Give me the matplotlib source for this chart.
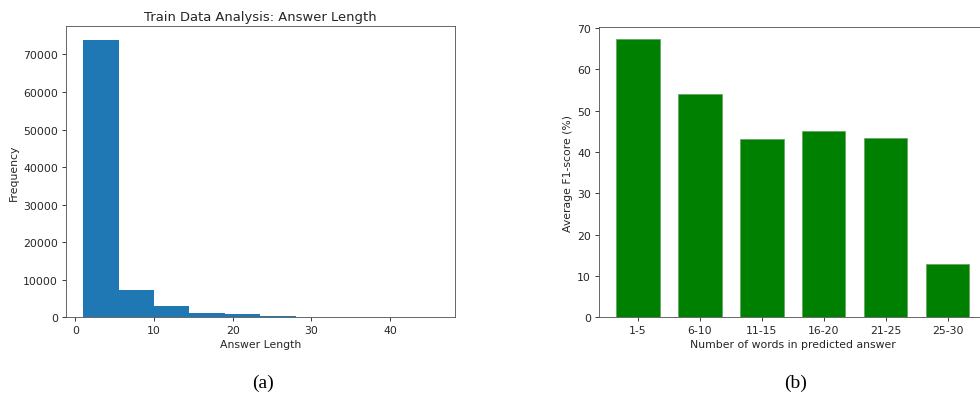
import matplotlib
matplotlib.use("Agg")
import matplotlib.pyplot as plt
import numpy as np

# Left: histogram of answer lengths (bin edges and counts)
bin_edges = [1, 5.5, 10, 14.5, 19, 23.5, 28, 32.5, 37, 41.5, 46]
bin_counts = [73800, 7250, 3050, 1200, 900, 300, 60, 25, 10, 5]

# Right: average F1 by predicted answer length
categories = ["1-5", "6-10", "11-15", "16-20", "21-25", "25-30"]
f1_scores = [67.4, 54.0, 43.1, 45.2, 43.3, 12.9]

s = 0.785
plt.rcParams.update({
    "font.family": "DejaVu Sans",
    "font.size": 10 * s,
    "axes.linewidth": 0.8 * s,
    "xtick.major.size": 3.5 * s,
    "ytick.major.size": 3.5 * s,
    "xtick.major.width": 0.8 * s,
    "ytick.major.width": 0.8 * s,
    "xtick.major.pad": 3.5 * s,
    "ytick.major.pad": 3.5 * s,
    "axes.labelpad": 4 * s,
})
text_col = "#262626"

fig = plt.figure(figsize=(9.8, 4.02), dpi=100)

ax1 = fig.add_axes([0.067, 0.208, 0.397, 0.724])
centers = [(bin_edges[i] + bin_edges[i + 1]) / 2 for i in range(len(bin_counts))]
ax1.hist(centers, bins=bin_edges, weights=bin_counts, color="#1f77b4")
ax1.set_title("Train Data Analysis: Answer Length", fontsize=12 * s, color=text_col, pad=6 * s)
ax1.set_xlabel("Answer Length", color=text_col)
ax1.set_ylabel("Frequency", color=text_col)
ax1.set_xticks([0, 10, 20, 30, 40])
ax1.set_yticks(range(0, 70001, 10000))

ax2 = fig.add_axes([0.611, 0.208, 0.396, 0.722])
x = np.arange(len(categories))
ax2.bar(x, f1_scores, width=0.7, color="green", edgecolor="#5fa35f", linewidth=0.5)
ax2.set_xticks(x)
ax2.set_xticklabels(categories)
ax2.set_ylim(0, 70.2)
ax2.set_yticks(range(0, 71, 10))
ax2.set_xlabel("Number of words in predicted answer", color=text_col)
ax2.set_ylabel("Average F1-score (%)", color=text_col)

for ax in (ax1, ax2):
    ax.tick_params(colors=text_col, labelcolor=text_col)
    for sp in ax.spines.values():
        sp.set_color("#555555")

fig.text(0.268, 0.047, "(a)", fontsize=14, family="Liberation Serif", ha="center", va="center")
fig.text(0.812, 0.047, "(b)", fontsize=14, family="Liberation Serif", ha="center", va="center")

fig.savefig("out.png", dpi=100)
